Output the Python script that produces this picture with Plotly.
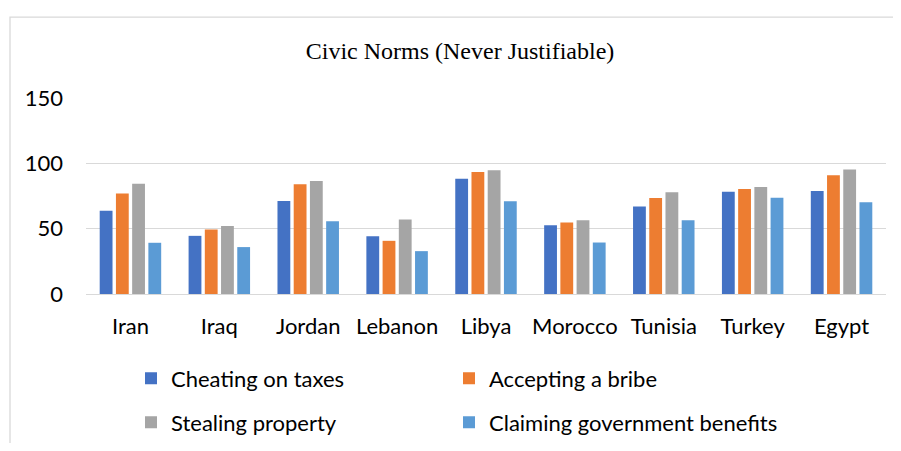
import plotly.graph_objects as go

countries = ["Iran", "Iraq", "Jordan", "Lebanon", "Libya", "Morocco", "Tunisia", "Turkey", "Egypt"]
cheating_on_taxes = [63.8, 44.5, 71.2, 44.2, 88.2, 52.6, 66.9, 78.3, 78.8]
accepting_a_bribe = [77.0, 49.3, 83.9, 40.7, 93.3, 54.7, 73.5, 80.3, 90.8]
stealing_property = [84.4, 52.1, 86.4, 57.0, 94.8, 56.4, 77.8, 81.9, 95.3]
claiming_benefits = [39.2, 35.9, 55.7, 32.8, 70.9, 39.4, 56.4, 73.7, 70.2]
y_ticks = [0, 50, 100, 150]

series = [
    ("Cheating on taxes", cheating_on_taxes, "#4472C4", "legend"),
    ("Accepting a bribe", accepting_a_bribe, "#ED7D31", "legend2"),
    ("Stealing property", stealing_property, "#A5A5A5", "legend3"),
    ("Claiming government benefits", claiming_benefits, "#5B9BD5", "legend4"),
]

FONT = "Lato"
FS = 22
fig = go.Figure()
for name, vals, color, lg in series:
    fig.add_trace(go.Bar(x=countries, y=vals, name=name, marker_color=color,
                         marker_line_width=0, legend=lg))

# the page has an 8px body margin; figure sized so the page fits 901x451 exactly.
# work in figure pixels (screen - 8)
W, H = 885, 435
L, R, T = 78, 7, 90
B = 148.7
ph = H - T - B
def py(ypix):
    return (H - B - ypix) / ph
def px(xpix):
    return (xpix - L) / (W - L - R)

legend_common = dict(orientation="h", xanchor="left", yanchor="middle",
                     font=dict(family=FONT, size=FS, color="#000000"),
                     bgcolor="rgba(0,0,0,0)", borderwidth=0, itemwidth=30)

col1, col2 = 123, 441
row1, row2 = 371, 415

fig.update_layout(
    width=W, height=H,
    margin=dict(l=L, r=R, t=T, b=B, autoexpand=False),
    paper_bgcolor="white", plot_bgcolor="white",
    barmode="group", bargap=0.27, bargroupgap=0.21,
    title=dict(text="Civic Norms (Never Justifiable)", xref="container", x=452 / W,
               xanchor="center", yref="container", y=1 - 43 / H, yanchor="middle",
               font=dict(family="Liberation Serif", size=24, color="#000000")),
    legend=dict(x=px(col1), y=py(row1), **legend_common),
    legend2=dict(x=px(col2), y=py(row1), **legend_common),
    legend3=dict(x=px(col1), y=py(row2), **legend_common),
    legend4=dict(x=px(col2), y=py(row2), **legend_common),
    xaxis=dict(showgrid=False, showline=False, ticks="", ticklabelstandoff=17,
               automargin=False,
               tickfont=dict(family=FONT, size=FS, color="#000000")),
    yaxis=dict(range=[0, 150], tickvals=y_ticks, showgrid=True, gridcolor="#D9D9D9",
               gridwidth=1.3, zeroline=True, zerolinecolor="#D9D9D9", zerolinewidth=1.3,
               showline=False, ticks="", ticklabelstandoff=22, automargin=False,
               tickfont=dict(family=FONT, size=FS, color="#000000")),
    showlegend=True,
)

fig.add_shape(type="rect", xref="paper", yref="paper",
              x0=px(2), x1=px(900), y0=py(460), y1=py(9),
              line=dict(color="#D9D9D9", width=1.3), fillcolor="rgba(0,0,0,0)", layer="below")

fig.write_html("out.html")
